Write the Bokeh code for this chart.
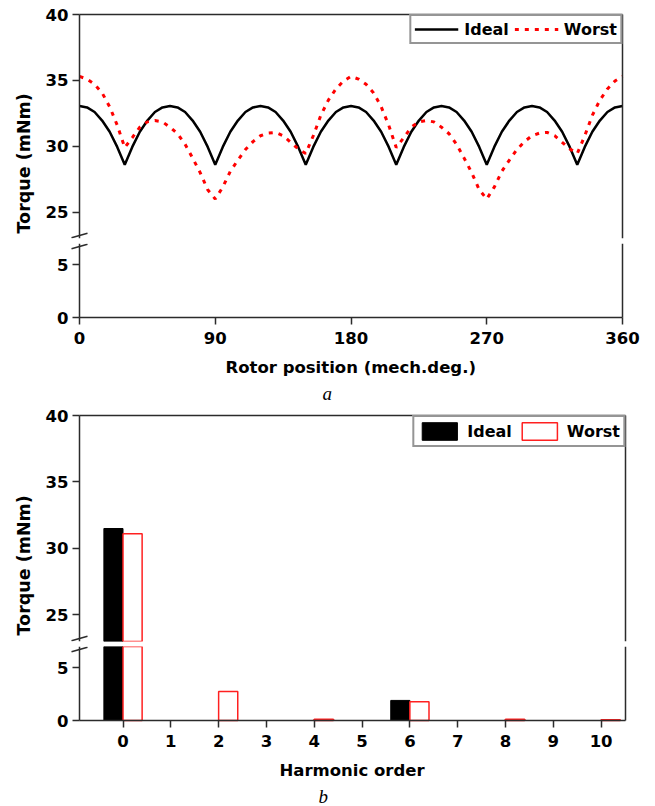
from bokeh.plotting import figure
from bokeh.layouts import column
from bokeh.models import (Range1d, LinearAxis, FixedTicker, Legend, LegendItem,
                          Title, ColumnDataSource)
from bokeh.transform import dodge
from bokeh.embed import file_html
from bokeh.resources import INLINE

# ---------------- data ----------------
angle_deg = list(range(0, 361, 5))
ideal_torque = [
    33.05, 32.95, 32.60, 31.95, 31.10, 29.95, 28.60, 29.95, 31.10, 31.95, 32.60, 32.95,
    33.05, 32.95, 32.60, 31.95, 31.10, 29.95, 28.60, 29.95, 31.10, 31.95, 32.60, 32.95,
    33.05, 32.95, 32.60, 31.95, 31.10, 29.95, 28.60, 29.95, 31.10, 31.95, 32.60, 32.95,
    33.05, 32.95, 32.60, 31.95, 31.10, 29.95, 28.60, 29.95, 31.10, 31.95, 32.60, 32.95,
    33.05, 32.95, 32.60, 31.95, 31.10, 29.95, 28.60, 29.95, 31.10, 31.95, 32.60, 32.95,
    33.05, 32.95, 32.60, 31.95, 31.10, 29.95, 28.60, 29.95, 31.10, 31.95, 32.60, 32.95,
    33.05]
worst_torque = [
    35.30, 35.10, 34.70, 34.05, 33.00, 31.60, 29.90, 30.65, 31.45, 31.85, 31.95, 31.85,
    31.45, 30.95, 30.15, 29.10, 28.00, 26.70, 26.00, 26.90, 28.10, 28.95, 29.75, 30.35,
    30.80, 31.00, 31.05, 30.80, 30.30, 29.80, 29.45, 30.80, 32.35, 33.50, 34.35, 34.95,
    35.30, 35.10, 34.70, 34.05, 33.00, 31.60, 29.90, 30.65, 31.45, 31.85, 31.95, 31.85,
    31.45, 30.95, 30.15, 29.10, 28.00, 26.70, 26.00, 26.90, 28.10, 28.95, 29.75, 30.35,
    30.80, 31.00, 31.05, 30.80, 30.30, 29.80, 29.45, 30.80, 32.35, 33.50, 34.35, 34.95,
    35.30]
angle_ticks = [0, 90, 180, 270, 360]

harmonic_order = [0, 1, 2, 3, 4, 5, 6, 7, 8, 9, 10]
ideal_harmonics = [31.5, 0, 0, 0, 0, 0, 1.9, 0, 0, 0, 0]
worst_harmonics = [31.1, 0, 2.75, 0, 0.12, 0, 1.78, 0, 0.12, 0, 0.06]

upper_ticks = [25, 30, 35, 40]
lower_ticks = [0, 5]

# ---------------- style / layout constants ----------------
FONT = "DejaVu Sans"
AXC = "#2b2b2b"
FRAME_LEFT = 40      # left edge of every drawing frame (px)
AXIS_X = 79          # where the y axis sits (px)
FS = "16.5px"
INFO = {}


def style_axis(ax):
    ax.axis_line_color = AXC
    ax.axis_line_width = 1.5
    ax.major_tick_line_color = AXC
    ax.major_tick_line_width = 1.5
    ax.major_tick_out = 7
    ax.major_tick_in = 0
    ax.minor_tick_line_color = None
    ax.major_label_text_font = FONT
    ax.major_label_text_font_style = "bold"
    ax.major_label_text_font_size = FS
    ax.major_label_text_color = "black"


def line_axis(loc, bounds):
    ax = LinearAxis(ticker=FixedTicker(ticks=[]), fixed_location=loc, bounds=bounds)
    ax.axis_line_color = AXC
    ax.axis_line_width = 1.5
    ax.major_tick_line_color = None
    ax.minor_tick_line_color = None
    ax.major_label_text_font_size = "0px"
    return ax


def make_fig(xlim, right_px, pad_r, ylim, top_px, bottom_px, pad_t, pad_b,
             yticks, min_top, min_bottom):
    px_x = (right_px - AXIS_X) / (xlim[1] - xlim[0])
    px_y = (bottom_px - top_px) / (ylim[1] - ylim[0])
    xr = Range1d(xlim[0] - (AXIS_X - FRAME_LEFT) / px_x, xlim[1] + pad_r / px_x)
    yr = Range1d(ylim[0] - pad_b / px_y, ylim[1] + pad_t / px_y)
    fw = right_px + pad_r - FRAME_LEFT
    fh = bottom_px - top_px + pad_t + pad_b
    p = figure(x_range=xr, y_range=yr, frame_width=fw, frame_height=fh,
               min_border_left=FRAME_LEFT, min_border_right=655 - right_px - pad_r,
               min_border_top=min_top, min_border_bottom=min_bottom,
               x_axis_location=None, y_axis_location=None,
               output_backend="svg", toolbar_location=None)
    p.xgrid.visible = False
    p.ygrid.visible = False
    p.outline_line_color = None
    p.background_fill_color = "white"
    p.border_fill_color = "white"
    yax = LinearAxis(ticker=FixedTicker(ticks=yticks), fixed_location=xlim[0],
                     bounds=ylim)
    style_axis(yax)
    yax.major_label_standoff = 4
    p.add_layout(yax, "left")
    p.add_layout(line_axis(xlim[1], ylim), "right")
    INFO[p.id] = (xlim, ylim, px_x, px_y)
    return p


def add_x_axis(p, ticks, label, offset):
    xlim, ylim, _, _ = INFO[p.id]
    ax = LinearAxis(ticker=FixedTicker(ticks=ticks), fixed_location=ylim[0], bounds=xlim)
    style_axis(ax)
    ax.major_label_standoff = 7
    p.add_layout(ax, "below")
    p.add_layout(Title(text=label, align="left", offset=offset, text_font=FONT,
                       text_font_style="bold", text_font_size=FS, text_color="black",
                       standoff=7), "below")


def add_top_line(p):
    xlim, ylim, _, _ = INFO[p.id]
    p.add_layout(line_axis(ylim[1], xlim), "above")


def break_mark(p, at_bottom):
    # short slanted stroke across the y axis, just inside the frame edge at the break
    xlim, ylim, px_x, px_y = INFO[p.id]
    dx = 8.0 / px_x
    yc = ylim[0] + 3.0 / px_y if at_bottom else ylim[1] - 3.0 / px_y
    dy = 2.3 / px_y
    p.segment(x0=[xlim[0] - dx], y0=[yc - dy], x1=[xlim[0] + dx], y1=[yc + dy],
              line_color=AXC, line_width=1.5)


def ylabel(p, offset):
    p.add_layout(Title(text="Torque (mNm)", align="left", offset=offset,
                       text_font=FONT, text_font_style="bold", text_font_size="17.5px",
                       text_color="black", standoff=13), "left")


def caption(p, text, offset):
    p.add_layout(Title(text=text, align="left", offset=offset, text_font="Liberation Serif",
                       text_font_style="italic", text_font_size="19px",
                       text_color="black", standoff=0), "below")


def legend(p, items, gh):
    lg = Legend(items=items, orientation="horizontal", location="top_right", margin=8,
                padding=3, spacing=5, glyph_width=44, glyph_height=gh, label_standoff=6,
                border_line_color=AXC, border_line_width=2,
                label_text_font=FONT, label_text_font_style="bold",
                label_text_font_size="16px", label_text_color="black",
                background_fill_alpha=1)
    p.add_layout(lg)


# ---------------- panel a ----------------
pa = make_fig((0, 360), 622, 8, (23, 40), 14, 238, 8, 0, upper_ticks, 6, 3)
pb = make_fig((0, 360), 622, 20, (0, 7), 243, 317, 0, 35, lower_ticks, 2, 51)
add_top_line(pa)

r_ideal = pa.line(angle_deg, ideal_torque, line_color="black", line_width=2.5)
r_worst = pa.line(angle_deg, worst_torque, line_color="red", line_width=3, line_dash="4 6")

add_x_axis(pb, angle_ticks, "Rotor position (mech.deg.)", 185)

legend(pa, [LegendItem(label="Ideal", renderers=[r_ideal]),
            LegendItem(label="Worst", renderers=[r_worst])], 20)

break_mark(pa, True)
break_mark(pb, False)
ylabel(pa, 5)
caption(pb, "a", 282)

# ---------------- panel b ----------------
pc = make_fig((-0.91, 10.51), 625, 8, (23, 40), 415, 641, 8, 0, upper_ticks, 4, 3)
pd = make_fig((-0.91, 10.51), 625, 8, (0, 7), 646, 720, 0, 35, lower_ticks, 2, 51)
add_top_line(pc)


def bar_source(values, min_top):
    keep = [(o, v) for o, v in zip(harmonic_order, values) if v > min_top]
    return ColumnDataSource(dict(order=[o for o, _ in keep], val=[v for _, v in keep]))


bars = {}
for p, lo in ((pc, 23), (pd, 0)):
    bi = p.vbar(x=dodge("order", -0.2, range=p.x_range), top="val", bottom=0, width=0.4,
                source=bar_source(ideal_harmonics, lo), fill_color="black",
                line_color="black", line_width=1)
    bw = p.vbar(x=dodge("order", 0.2, range=p.x_range), top="val", bottom=0, width=0.4,
                source=bar_source(worst_harmonics, lo), fill_color="white",
                line_color="#ff2020", line_width=1.5)
    bars[p.id] = (bi, bw)

add_x_axis(pd, harmonic_order, "Harmonic order", 239)

legend(pc, [LegendItem(label="Ideal", renderers=[bars[pc.id][0]]),
            LegendItem(label="Worst", renderers=[bars[pc.id][1]])], 22)

break_mark(pc, True)
break_mark(pd, False)
ylabel(pc, 6)
caption(pd, "b", 278)

layout = column(pa, pb, pc, pd, spacing=0)
open("out.html", "w").write(file_html(layout, INLINE))
